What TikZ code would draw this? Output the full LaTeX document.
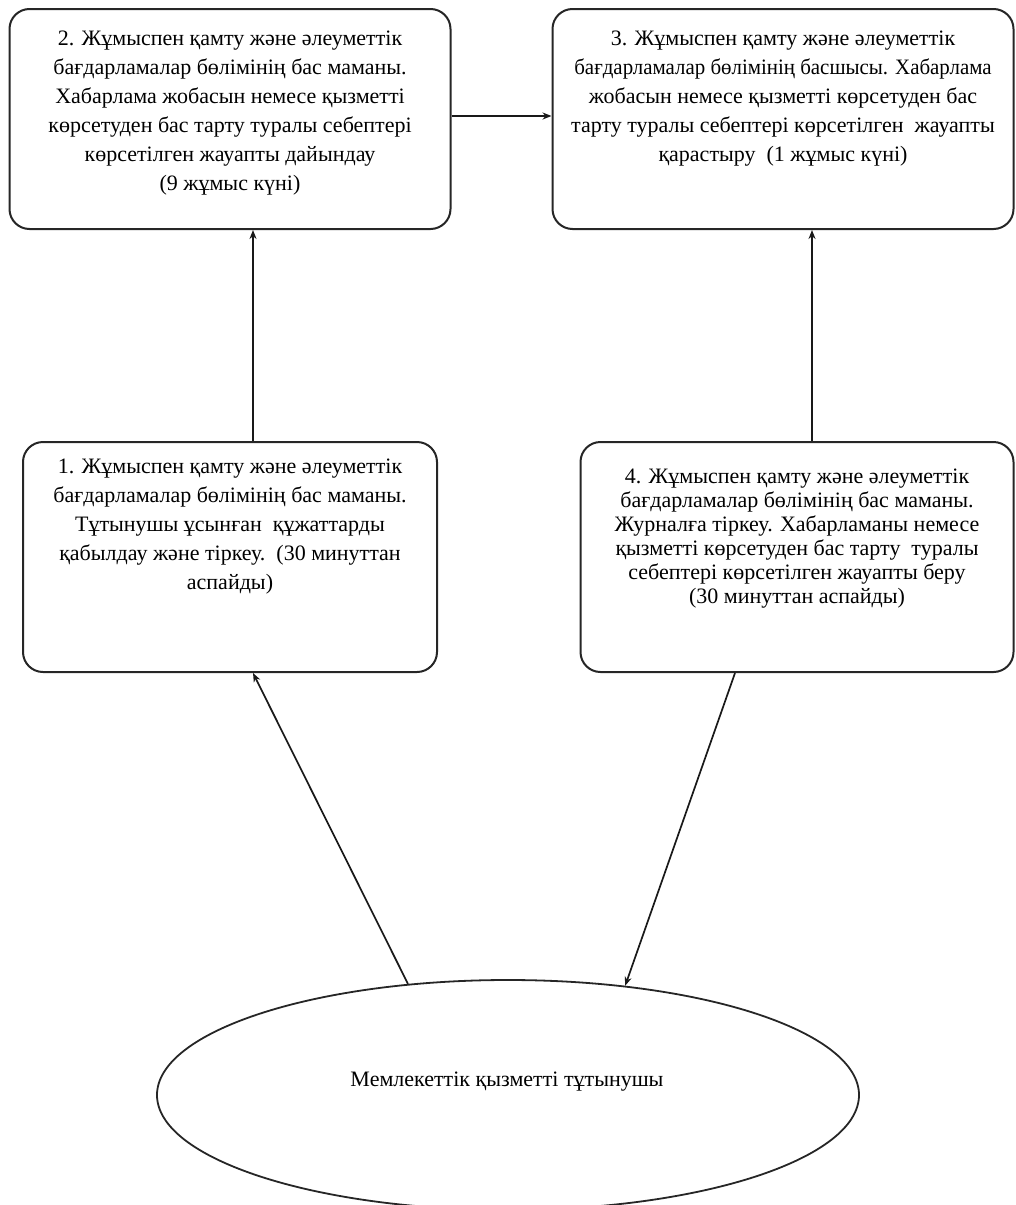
\documentclass[tikz,border=0pt]{standalone}
\usepackage{fontspec}
\setmainfont{Liberation Serif}
\usetikzlibrary{shapes.geometric,arrows.meta,calc}
\begin{document}
\begin{tikzpicture}[x=1pt,y=-1pt,
  stepbox/.style={draw=black!85,line width=2pt,rounded corners=20pt,inner sep=0pt},
  txt/.style={inner sep=0pt,align=center,anchor=north,font=\fontsize{22}{29}\selectfont},
  txtb/.style={inner sep=0pt,align=center,anchor=north,font=\fontsize{22}{24}\selectfont},
  arr/.style={draw=black!90,line width=1.7pt,-{Stealth[length=9pt,width=7pt]}}]
\useasboundingbox (0,0) rectangle (1015,1205);
% boxes
\node[stepbox,minimum width=441pt,minimum height=220pt] (b2) at (230,119) {};
\node[stepbox,minimum width=461pt,minimum height=220pt] (b3) at (783,119) {};
\node[stepbox,minimum width=414pt,minimum height=230pt] (b1) at (230,557) {};
\node[stepbox,minimum width=433pt,minimum height=230pt] (b4) at (797,557) {};
\node[draw=black!85,line width=1.8pt,ellipse,minimum width=702pt,minimum height=230pt] (ell) at (508,1095) {};
% texts
\node[txt] (t2) at ($(b2.north)+(0,23)$) {2. Жұмыспен қамту және әлеуметтік\\бағдарламалар бөлімінің бас маманы.\\Хабарлама жобасын немесе қызметті\\көрсетуден бас тарту туралы себептері\\көрсетілген жауапты дайындау\\(9 жұмыс күні)};
\node[txt] (t3) at ($(b3.north)+(0,23)$) {3. Жұмыспен қамту және әлеуметтік\\\scalebox{0.95}[1]{бағдарламалар бөлімінің басшысы. Хабарлама}\\жобасын немесе қызметті көрсетуден бас\\тарту туралы себептері көрсетілген\ \ жауапты\\қарастыру\ \ (1 жұмыс күні)};
\node[txt] (t1) at ($(b1.north)+(0,18)$) {1. Жұмыспен қамту және әлеуметтік\\бағдарламалар бөлімінің бас маманы.\\Тұтынушы ұсынған\ \ құжаттарды\\қабылдау және тіркеу.\ \ (30 минуттан\\аспайды)};
\node[txtb] (t4) at ($(b4.north)+(0,28)$) {4. Жұмыспен қамту және әлеуметтік\\бағдарламалар бөлімінің бас маманы.\\Журналға тіркеу. Хабарламаны немесе\\қызметті көрсетуден бас тарту\ \ туралы\\себептері көрсетілген жауапты беру\\(30 минуттан аспайды)};
\node[inner sep=0pt,font=\fontsize{22}{29}\selectfont] (te) at (507,1082) {Мемлекеттік қызметті тұтынушы};
% connectors
\draw[arr] ([xshift=23pt]b1.north) -- ([xshift=23pt]b2.south);
\draw[arr] ([yshift=3pt]b2.east) -- ([yshift=3pt]b3.west);
\draw[arr] ([xshift=15pt]b4.north) -- ([xshift=15pt]b4.north |- b3.south);
\draw[arr] (ell.132.6) -- ([xshift=23pt]b1.south);
\draw[arr] ([xshift=-62pt]b4.south) -- (ell.43.7);
\end{tikzpicture}
\end{document}
